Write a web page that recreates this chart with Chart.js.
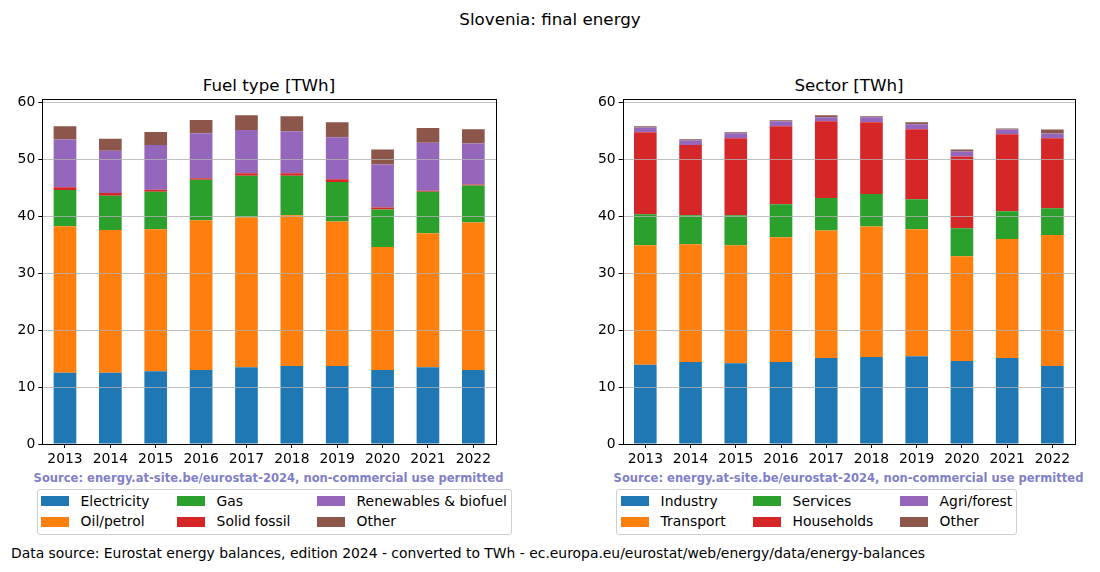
<!DOCTYPE html>
<html><head><meta charset="utf-8">
<script src="https://cdn.jsdelivr.net/npm/chart.js@4"></script>
<style>
body{margin:0;width:1100px;height:572px;position:relative;background:#fff;font-family:"DejaVu Sans",sans-serif;overflow:hidden;color:#000}
.abs{position:absolute;white-space:nowrap}
.src{font-weight:bold;font-size:11.55px;color:#8080c8;transform:translate(-50%,-50%)}
.ttl{font-size:16.7px;transform:translate(-50%,-50%)}
.lbox{position:absolute;border:1px solid #d0d0d0;border-radius:3px;box-sizing:border-box;background:#fff}
.patch{position:absolute;width:28px;height:10px}
.ltxt{position:absolute;font-size:13.9px;line-height:16px;white-space:nowrap}
</style></head><body>
<div class="abs" style="left:550px;top:19px;transform:translate(-50%,-50%);font-size:16.7px">Slovenia: final energy</div>
<div class="abs ttl" style="left:269px;top:84.7px">Fuel type [TWh]</div>
<div class="abs ttl" style="left:849px;top:84.7px">Sector [TWh]</div>
<canvas id="c1" width="520" height="410" style="position:absolute;left:0;top:60px"></canvas>
<canvas id="c2" width="520" height="410" style="position:absolute;left:580px;top:60px"></canvas>
<div class="abs src" style="left:268.5px;top:477.5px">Source: energy.at-site.be/eurostat-2024, non-commercial use permitted</div>
<div class="abs src" style="left:848.5px;top:477.5px">Source: energy.at-site.be/eurostat-2024, non-commercial use permitted</div>
<div class="abs" style="left:11px;top:553px;transform:translateY(-50%);font-size:13.9px">Data source: Eurostat energy balances, edition 2024 - converted to TWh - ec.europa.eu/eurostat/web/energy/data/energy-balances</div>
<script>
const years = ['2013','2014','2015','2016','2017','2018','2019','2020','2021','2022'];

const electricity = [12.5, 12.5, 12.8, 13.0, 13.5, 13.7, 13.7, 13.0, 13.5, 13.0];
const oilPetrol   = [25.75, 25.1, 24.9, 26.3, 26.3, 26.5, 25.4, 21.6, 23.5, 25.9];
const gas         = [6.35, 6.0, 6.6, 7.1, 7.3, 6.9, 6.9, 6.6, 7.3, 6.5];
const solidFossil = [0.5, 0.5, 0.35, 0.3, 0.45, 0.45, 0.5, 0.35, 0.2, 0.2];
const renewables  = [8.4, 7.4, 7.85, 7.9, 7.6, 7.4, 7.4, 7.55, 8.4, 7.2];
const otherFuel   = [2.3, 2.1, 2.3, 2.3, 2.6, 2.6, 2.6, 2.65, 2.6, 2.5];

const industry    = [13.9, 14.4, 14.2, 14.4, 15.1, 15.3, 15.4, 14.6, 15.1, 13.7];
const transport   = [21.0, 20.7, 20.7, 21.9, 22.4, 22.9, 22.3, 18.4, 20.9, 23.0];
const services    = [5.45, 5.1, 5.3, 5.8, 5.7, 5.7, 5.3, 4.9, 4.9, 4.7];
const households  = [14.4, 12.3, 13.5, 13.7, 13.5, 12.6, 12.3, 12.6, 13.5, 12.3];
const agriForest  = [0.85, 0.85, 0.9, 0.9, 0.7, 0.9, 0.85, 0.9, 0.85, 0.85];
const otherSector = [0.2, 0.2, 0.15, 0.15, 0.35, 0.15, 0.35, 0.35, 0.15, 0.7];

const yTicks = [0, 10, 20, 30, 40, 50, 60];

const colors = ['#1f77b4','#ff7f0e','#2ca02c','#d62728','#9467bd','#8c564b'];

const fuelSeries = [
  ['Electricity', electricity], ['Oil/petrol', oilPetrol], ['Gas', gas],
  ['Solid fossil', solidFossil], ['Renewables & biofuel', renewables], ['Other', otherFuel]
];
const sectorSeries = [
  ['Industry', industry], ['Transport', transport], ['Services', services],
  ['Households', households], ['Agri/forest', agriForest], ['Other', otherSector]
];

const overlay = {
  id: 'overlay',
  afterDatasetsDraw(chart) {
    const {ctx, chartArea: a, scales: {y}} = chart;
    ctx.save();
    ctx.strokeStyle = '#b0b0b0'; ctx.lineWidth = 0.8;
    yTicks.forEach(v => {
      const py = Math.round(y.getPixelForValue(v)) + 0.5;
      if (py < a.top || py > a.bottom) return;
      ctx.beginPath(); ctx.moveTo(a.left, py); ctx.lineTo(a.right, py); ctx.stroke();
    });
    ctx.strokeStyle = '#000'; ctx.lineWidth = 1;
    ctx.strokeRect(Math.round(a.left) + 0.5, Math.round(a.top) + 0.5,
                   Math.round(a.right - a.left), Math.round(a.bottom - a.top));
    ctx.restore();
  }
};

function makeChart(id, series, padRight, yWidth) {
  const font = {family: '"DejaVu Sans", sans-serif', size: 13.9};
  return new Chart(document.getElementById(id), {
    type: 'bar',
    data: {
      labels: years,
      datasets: series.map((s, i) => ({
        label: s[0], data: s[1], backgroundColor: colors[i], borderWidth: 0,
        barPercentage: 0.5, categoryPercentage: 1.0
      }))
    },
    options: {
      responsive: false, animation: false,
      layout: {padding: {left: 0, right: padRight, top: 39, bottom: 0}},
      plugins: {
        legend: {display: false}, tooltip: {enabled: false}, title: {display: false}
      },
      scales: {
        x: {
          stacked: true, offset: true,
          grid: {display: true, offset: false, drawOnChartArea: false, drawTicks: true,
                 tickLength: 4, tickColor: '#000', tickWidth: 1},
          border: {display: false},
          ticks: {color: '#000', font, padding: 3, maxRotation: 0, autoSkip: false},
          afterFit(s) { s.height = 26; }
        },
        y: {
          stacked: true, min: 0, max: 60.6,
          grid: {display: true, drawOnChartArea: false, drawTicks: true,
                 tickLength: 4, tickColor: '#000', tickWidth: 1},
          border: {display: false},
          ticks: {color: '#000', font, padding: 3, stepSize: 10, includeBounds: false},
          afterBuildTicks(s) { s.ticks = yTicks.map(v => ({value: v})); },
          afterFit(s) { s.width = yWidth; }
        }
      }
    },
    plugins: [overlay]
  });
}

makeChart('c1', fuelSeries, 24, 42.3);
makeChart('c2', sectorSeries, 25, 42.7);

function makeLegend(series, box, colX) {
  const b = document.createElement('div');
  b.className = 'lbox';
  Object.assign(b.style, {left: box.x + 'px', top: box.y + 'px', width: box.w + 'px', height: box.h + 'px'});
  document.body.appendChild(b);
  const rows = [501.2, 521.9];
  series.forEach((s, i) => {
    const col = Math.floor(i / 2), row = i % 2;
    const p = document.createElement('div');
    p.className = 'patch';
    Object.assign(p.style, {left: colX[col] + 'px', top: (rows[row] - 5) + 'px', background: colors[i]});
    document.body.appendChild(p);
    const t = document.createElement('div');
    t.className = 'ltxt';
    t.textContent = s[0];
    Object.assign(t.style, {left: (colX[col] + 39.6) + 'px', top: (rows[row] - 8.5) + 'px'});
    document.body.appendChild(t);
  });
}
makeLegend(fuelSeries, {x: 36.7, y: 489, w: 475.6, h: 46.3}, [41, 177, 317]);
makeLegend(sectorSeries, {x: 615.7, y: 489, w: 401.6, h: 46.3}, [621, 753, 900]);
</script>
</body></html>
